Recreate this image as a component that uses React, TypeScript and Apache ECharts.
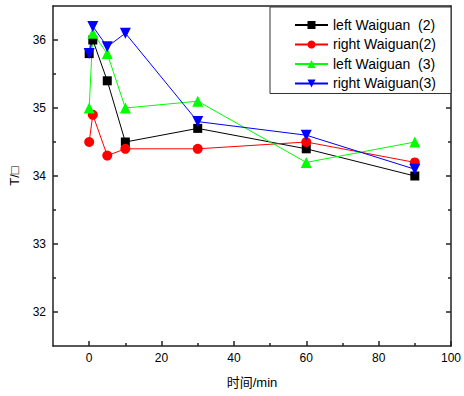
import React, { useEffect, useRef } from "react";
import * as echarts from "echarts";

const times = [0, 1, 5, 10, 30, 60, 90];
const leftWaiguan2 = [35.8, 36.0, 35.4, 34.5, 34.7, 34.4, 34.0];
const rightWaiguan2 = [34.5, 34.9, 34.3, 34.4, 34.4, 34.5, 34.2];
const leftWaiguan3 = [35.0, 36.1, 35.8, 35.0, 35.1, 34.2, 34.5];
const rightWaiguan3 = [35.8, 36.2, 35.9, 36.1, 34.8, 34.6, 34.1];
const seriesNames = ["left Waiguan  (2)", "right Waiguan(2)", "left Waiguan  (3)", "right Waiguan(3)"];
const xMajorTicks = [0, 20, 40, 60, 80, 100];
const xMinorTicks = [10, 30, 50, 70, 90];
const yMajorTicks = [32, 33, 34, 35, 36];
const yMinorTicks = [32.5, 33.5, 34.5, 35.5];

const FONT = "'Liberation Sans', Arial, 'Noto Sans CJK SC', sans-serif";
const AXIS_COLOR = "#222";

export default function App() {
  const ref = useRef<HTMLDivElement>(null);
  useEffect(() => {
    if (!ref.current) return;
    const chart = echarts.init(ref.current, undefined, { renderer: "svg" });
    const pair = (vals: number[]) => times.map((t, i) => [t, vals[i]]);
    const lineAxis = { show: true, onZero: false, lineStyle: { color: AXIS_COLOR, width: 1.5 } };
    const noLine = { show: false, onZero: false };
    const baseX = { type: "value", min: -10, max: 100, gridIndex: 0, splitLine: { show: false } };
    const baseY = { type: "value", min: 31.5, max: 36.5, gridIndex: 0, splitLine: { show: false } };
    const mk = (name: string, vals: number[], color: string, symbol: string, size: number, rotate = 0) => ({
      name,
      type: "line",
      data: pair(vals),
      xAxisIndex: 0,
      yAxisIndex: 0,
      symbol,
      symbolSize: size,
      symbolRotate: rotate,
      showAllSymbol: true,
      itemStyle: { color },
      lineStyle: { color, width: 1 },
    });
    const tickStyle = { color: AXIS_COLOR, width: 1.5 };
    chart.setOption({
      animation: false,
      textStyle: { fontFamily: FONT },
      grid: { left: 52, top: 6, right: 7, bottom: 50, containLabel: false },
      legend: {
        orient: "vertical",
        left: 270,
        top: 7,
        itemWidth: 33,
        itemHeight: 10,
        itemGap: 5.5,
        padding: [11, 15, 3, 24],
        borderColor: "#333",
        borderWidth: 1,
        backgroundColor: "#fff",
        textStyle: { fontSize: 14, color: "#000", fontFamily: FONT },
        data: seriesNames,
      },
      xAxis: [
        {
          ...baseX,
          position: "bottom",
          axisLine: lineAxis,
          axisTick: { show: true, inside: true, length: 5, customValues: xMajorTicks, lineStyle: tickStyle },
          axisLabel: { show: true, customValues: xMajorTicks, margin: 6, fontSize: 12, color: "#000", fontFamily: FONT },
          name: "时间/min",
          nameLocation: "middle",
          nameGap: 30,
          nameTextStyle: { fontSize: 13, color: "#000", fontFamily: FONT },
        },
        {
          ...baseX,
          position: "bottom",
          axisLine: noLine,
          axisTick: { show: true, inside: true, length: 3, customValues: xMinorTicks, lineStyle: tickStyle },
          axisLabel: { show: false },
        },
        {
          ...baseX,
          position: "top",
          axisLine: lineAxis,
          axisTick: { show: false },
          axisLabel: { show: false },
        },
      ],
      yAxis: [
        {
          ...baseY,
          position: "left",
          axisLine: lineAxis,
          axisTick: { show: true, inside: true, length: 5, customValues: yMajorTicks, lineStyle: tickStyle },
          axisLabel: { show: true, customValues: yMajorTicks, margin: 7, fontSize: 12, color: "#000", fontFamily: FONT },
          name: "T/□",
          nameLocation: "middle",
          nameGap: 32,
          nameTextStyle: { fontSize: 13, color: "#000", fontFamily: FONT },
        },
        {
          ...baseY,
          position: "left",
          axisLine: noLine,
          axisTick: { show: true, inside: true, length: 3, customValues: yMinorTicks, lineStyle: tickStyle },
          axisLabel: { show: false },
        },
        {
          ...baseY,
          position: "right",
          axisLine: lineAxis,
          axisTick: { show: true, inside: true, length: 5, customValues: yMajorTicks, lineStyle: tickStyle },
          axisLabel: { show: false },
        },
        {
          ...baseY,
          position: "right",
          axisLine: noLine,
          axisTick: { show: true, inside: true, length: 3, customValues: yMinorTicks, lineStyle: tickStyle },
          axisLabel: { show: false },
        },
      ],
      series: [
        mk(seriesNames[0], leftWaiguan2, "#000000", "rect", 9),
        mk(seriesNames[1], rightWaiguan2, "#ff0000", "circle", 10),
        mk(seriesNames[2], leftWaiguan3, "#00ff00", "triangle", 11),
        mk(seriesNames[3], rightWaiguan3, "#0000ff", "triangle", 11, 180),
      ],
    });
    return () => chart.dispose();
  }, []);
  return (
    <div
      ref={ref}
      style={{ position: "fixed", left: 0, top: 0, width: 464, height: 396, background: "#fff" }}
    />
  );
}
